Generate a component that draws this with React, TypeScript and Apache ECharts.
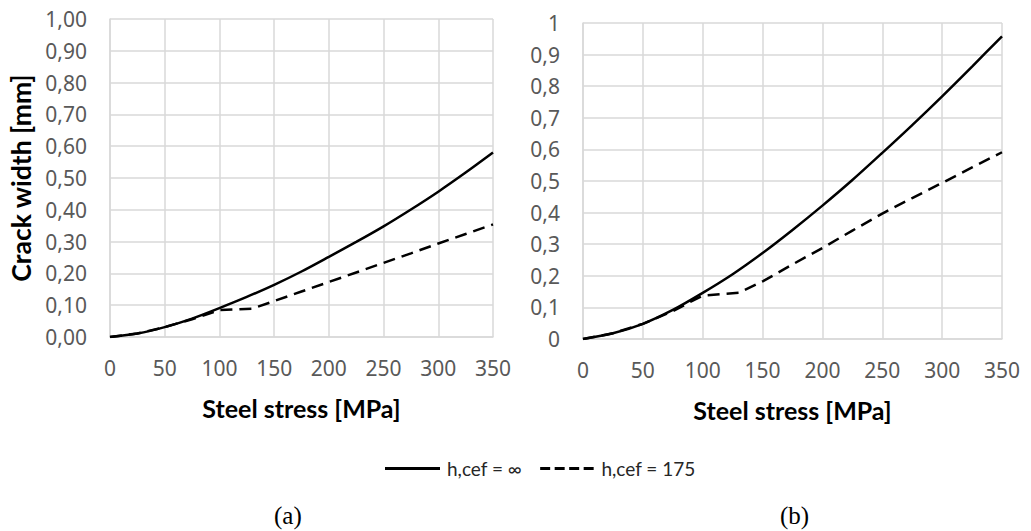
import React, { useEffect, useRef } from "react";
import * as echarts from "echarts";

// Steel stress [MPa] sample positions
const stressA = [0, 25, 50, 75, 100, 125, 150, 175, 200, 225, 250, 275, 300, 325, 350];
const solidA = [0, 0.011, 0.031, 0.058, 0.091, 0.126, 0.164, 0.206, 0.252, 0.299, 0.348, 0.401, 0.457, 0.517, 0.58];
const dashStressA = [0, 25, 50, 75, 90, 100, 115, 130, 150, 175, 200, 225, 250, 275, 300, 325, 350];
const dashedA = [0, 0.011, 0.031, 0.056, 0.073, 0.085, 0.087, 0.089, 0.113, 0.143, 0.173, 0.203, 0.233, 0.263, 0.294, 0.324, 0.354];

const stressB = [0, 25, 50, 75, 100, 125, 150, 175, 200, 225, 250, 275, 300, 325, 350];
const solidB = [0, 0.018, 0.048, 0.092, 0.146, 0.205, 0.272, 0.345, 0.422, 0.503, 0.589, 0.677, 0.768, 0.862, 0.958];
const dashStressB = [0, 25, 50, 75, 90, 100, 115, 130, 150, 175, 200, 225, 250, 275, 300, 325, 350];
const dashedB = [0, 0.018, 0.048, 0.088, 0.118, 0.137, 0.142, 0.146, 0.182, 0.236, 0.288, 0.343, 0.397, 0.446, 0.494, 0.543, 0.591];

const seriesNames = ["h,cef = \u221e", "h,cef = 175"];
const xTitle = "Steel stress [MPa]";
const yTitle = "Crack width [mm]";
const panelLabels = ["(a)", "(b)"];

const pairs = (xs: number[], ys: number[]) => xs.map((x, i) => [x, ys[i]]);

const gridColor = "#d9d9d9";
const tickFont = { fontFamily: "Noto Sans", fontSize: 21, color: "#595959" };
const titleFont = { fontFamily: "Lato", fontSize: 25, fontWeight: "bold" as const, color: "#000" };

const solidIcon = "path://M0,0h55v3h-55z";
const dashIcon = "path://M0,0h10v3h-10zM14.5,0h10v3h-10zM29,0h10v3h-10zM43.5,0h10v3h-10z";

function xAxisCfg(gridIndex: number) {
  return {
    type: "value" as const,
    gridIndex,
    min: 0,
    max: 350,
    interval: 50,
    name: xTitle,
    nameLocation: "middle" as const,
    nameGap: 58,
    nameTextStyle: titleFont,
    axisLine: { show: true, lineStyle: { color: gridColor, width: 1.5 } },
    axisTick: { show: false },
    axisLabel: { ...tickFont, margin: 20 },
    splitLine: { show: true, lineStyle: { color: gridColor, width: 1.5 } },
  };
}

function yAxisCfg(gridIndex: number, fmt: (v: number) => string, name?: string) {
  return {
    type: "value" as const,
    gridIndex,
    min: 0,
    max: 1,
    interval: 0.1,
    name,
    nameLocation: "middle" as const,
    nameGap: 76,
    nameTextStyle: { ...titleFont, fontSize: 26.5 },
    axisLine: { show: true, lineStyle: { color: gridColor, width: 1.5 } },
    axisTick: { show: false },
    axisLabel: { ...tickFont, margin: 23, formatter: fmt },
    splitLine: { show: true, lineStyle: { color: gridColor, width: 1.5 } },
  };
}

const fmtA = (v: number) => (Math.round(v * 100) / 100).toFixed(2).replace(".", ",");
const fmtB = (v: number) => String(Math.round(v * 10) / 10).replace(".", ",");

export default function App() {
  const ref = useRef<HTMLDivElement>(null);
  useEffect(() => {
    if (!ref.current) return;
    const chart = echarts.init(ref.current, undefined, { renderer: "svg" });
    const solidStyle = { color: "#000", width: 2.5, type: "solid" as const };
    const dashStyle = { color: "#000", width: 2.5, type: [12, 7] as number[] };
    chart.setOption({
      animation: false,
      backgroundColor: "#fff",
      grid: [
        { left: 110, top: 19, width: 383, height: 318 },
        { left: 583, top: 23, width: 419, height: 316 },
      ],
      xAxis: [xAxisCfg(0), xAxisCfg(1)],
      yAxis: [yAxisCfg(0, fmtA, yTitle), yAxisCfg(1, fmtB)],
      legend: {
        data: [
          { name: seriesNames[0], icon: solidIcon },
          { name: seriesNames[1], icon: dashIcon },
        ],
        left: 385,
        top: 459,
        padding: 0,
        itemWidth: 55,
        itemHeight: 3,
        itemGap: 18,
        itemStyle: { color: "#000", borderWidth: 0 },
        textStyle: { fontFamily: "Lato", fontSize: 19, color: "#262626", padding: [0, 0, 0, 2] },
      },
      graphic: [
        {
          type: "text",
          left: 274,
          top: 503,
          style: { text: panelLabels[0], font: "25px 'Liberation Serif'", fill: "#000" },
        },
        {
          type: "text",
          left: 780,
          top: 503,
          style: { text: panelLabels[1], font: "25px 'Liberation Serif'", fill: "#000" },
        },
      ],
      series: [
        {
          name: seriesNames[0],
          type: "line",
          xAxisIndex: 0,
          yAxisIndex: 0,
          data: pairs(stressA, solidA),
          symbol: "none",
          smooth: 0.3,
          lineStyle: solidStyle,
          itemStyle: { color: "#000" },
        },
        {
          name: seriesNames[1],
          type: "line",
          xAxisIndex: 0,
          yAxisIndex: 0,
          data: pairs(dashStressA, dashedA),
          symbol: "none",
          lineStyle: dashStyle,
          itemStyle: { color: "#000" },
        },
        {
          name: seriesNames[0],
          type: "line",
          xAxisIndex: 1,
          yAxisIndex: 1,
          data: pairs(stressB, solidB),
          symbol: "none",
          smooth: 0.3,
          lineStyle: solidStyle,
          itemStyle: { color: "#000" },
        },
        {
          name: seriesNames[1],
          type: "line",
          xAxisIndex: 1,
          yAxisIndex: 1,
          data: pairs(dashStressB, dashedB),
          symbol: "none",
          lineStyle: dashStyle,
          itemStyle: { color: "#000" },
        },
      ],
    });
    return () => chart.dispose();
  }, []);
  return (
    <div
      ref={ref}
      style={{ position: "fixed", left: 0, top: 0, width: 1031, height: 531, background: "#fff" }}
    />
  );
}
